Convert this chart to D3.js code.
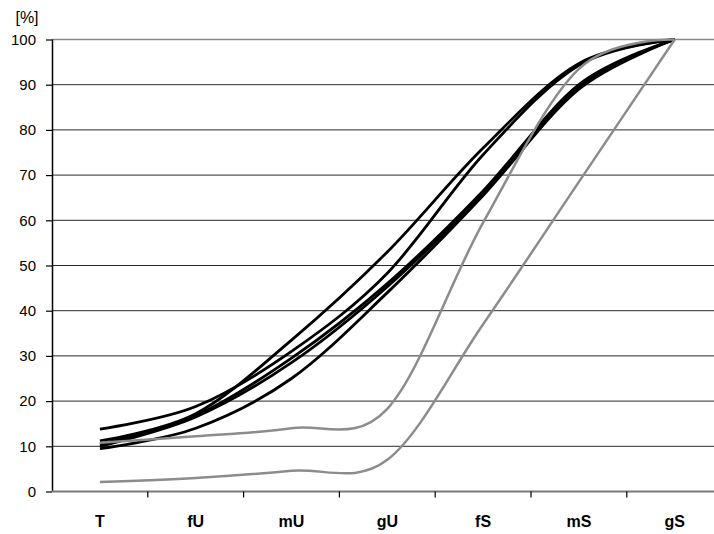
<!DOCTYPE html>
<html>
<head>
<meta charset="utf-8">
<script src="https://cdn.jsdelivr.net/npm/d3@7/dist/d3.min.js"></script>
<style>
  html, body { margin: 0; padding: 0; background: #fff; }
  svg { display: block; font-family: "Liberation Sans", Arial, sans-serif; }
</style>
</head>
<body>
<svg id="chart" width="714" height="534"></svg>
<script>
// Grain-size classes along the x axis
const categories = ["T", "fU", "mU", "gU", "fS", "mS", "gS"];

// Cumulative passing [%] per sample (black curves)
const sample1 = [11.2, 17.2, 33.5, 53.0, 76.0, 94.7, 100];
const sample2 = [13.8, 18.8, 31.0, 48.3, 74.5, 94.3, 100];
const sample3 = [10.5, 16.8, 29.5, 46.0, 66.5, 90.0, 100];
const sample4 = [10.0, 16.5, 28.5, 45.3, 66.0, 89.5, 100];
const sample5 = [9.5, 14.0, 25.0, 44.0, 65.5, 89.0, 100];

// Envelope curves (grey)
const boundUpper = [10.8, 12.2, 14.0, 18.3, 59.5, 93.5, 100];
const boundLower = [2.1, 3.0, 4.6, 7.0, 37.0, 68.5, 100];

const yTicks = [0, 10, 20, 30, 40, 50, 60, 70, 80, 90, 100];

const blackSeries = [sample1, sample2, sample3, sample4, sample5];
const greySeries = [boundUpper, boundLower];

const svg = d3.select("#chart");
const plotLeft = 52, plotTop = 39.5, plotBottom = 491.5, step = 95.8;

const x = d3.scaleBand()
  .domain(categories)
  .range([plotLeft, plotLeft + step * categories.length])
  .paddingInner(0).paddingOuter(0);

const y = d3.scaleLinear().domain([0, 100]).range([plotBottom, plotTop]);

// Horizontal gridlines
svg.append("g")
  .selectAll("line")
  .data(yTicks.filter(d => d > 0 && d < 100))
  .join("line")
  .attr("x1", plotLeft).attr("x2", 714)
  .attr("y1", d => y(d)).attr("y2", d => y(d))
  .attr("stroke", "#2a2a2a").attr("stroke-width", 1);

// Top border line at 100
svg.append("line")
  .attr("x1", plotLeft).attr("x2", 714)
  .attr("y1", y(100)).attr("y2", y(100))
  .attr("stroke", "#8a8a8a").attr("stroke-width", 1.5);

// Y axis
const yAxis = svg.append("g")
  .attr("transform", `translate(${plotLeft},0)`)
  .call(d3.axisLeft(y).tickValues(yTicks).tickSize(6).tickPadding(10));
yAxis.select(".domain").attr("stroke", "#000").attr("stroke-width", 1.5)
  .attr("d", `M0.5,${y(100)}V${y(0)}`);
yAxis.selectAll(".tick line").attr("stroke", "#000").attr("stroke-width", 1.2);
yAxis.selectAll(".tick text").attr("font-size", 15).attr("fill", "#000")
  .attr("font-family", "'Liberation Sans', Arial, sans-serif");

// X axis baseline
svg.append("line")
  .attr("x1", plotLeft).attr("x2", 714)
  .attr("y1", y(0)).attr("y2", y(0))
  .attr("stroke", "#7a7a7a").attr("stroke-width", 2);

// Tick marks between classes
svg.append("g")
  .selectAll("line")
  .data(categories)
  .join("line")
  .attr("x1", d => x(d) + x.bandwidth()).attr("x2", d => x(d) + x.bandwidth())
  .attr("y1", y(0)).attr("y2", y(0) + 6)
  .attr("stroke", "#000").attr("stroke-width", 1.2);

// Class labels
const xAxis = svg.append("g")
  .attr("transform", `translate(0,${y(0)})`)
  .call(d3.axisBottom(x).tickSize(0).tickPadding(24));
xAxis.select(".domain").remove();
xAxis.selectAll(".tick text").attr("font-size", 16).attr("font-weight", "bold")
  .attr("fill", "#000").attr("font-family", "'Liberation Sans', Arial, sans-serif");

// Unit label
svg.append("text")
  .attr("x", 27).attr("y", 23)
  .attr("text-anchor", "middle")
  .attr("font-size", 16)
  .attr("fill", "#000")
  .text("[%]");

const line = d3.line()
  .x((d, i) => x(categories[i]) + x.bandwidth() / 2)
  .y(d => y(d))
  .curve(d3.curveCardinal.tension(0));

svg.append("g")
  .selectAll("path")
  .data(blackSeries)
  .join("path")
  .attr("d", line)
  .attr("fill", "none")
  .attr("stroke", "#000")
  .attr("stroke-width", 2.8)
  .attr("stroke-linejoin", "round");

svg.append("g")
  .selectAll("path")
  .data(greySeries)
  .join("path")
  .attr("d", line)
  .attr("fill", "none")
  .attr("stroke", "#8c8c8c")
  .attr("stroke-width", 2.5)
  .attr("stroke-linejoin", "round");
</script>
</body>
</html>
